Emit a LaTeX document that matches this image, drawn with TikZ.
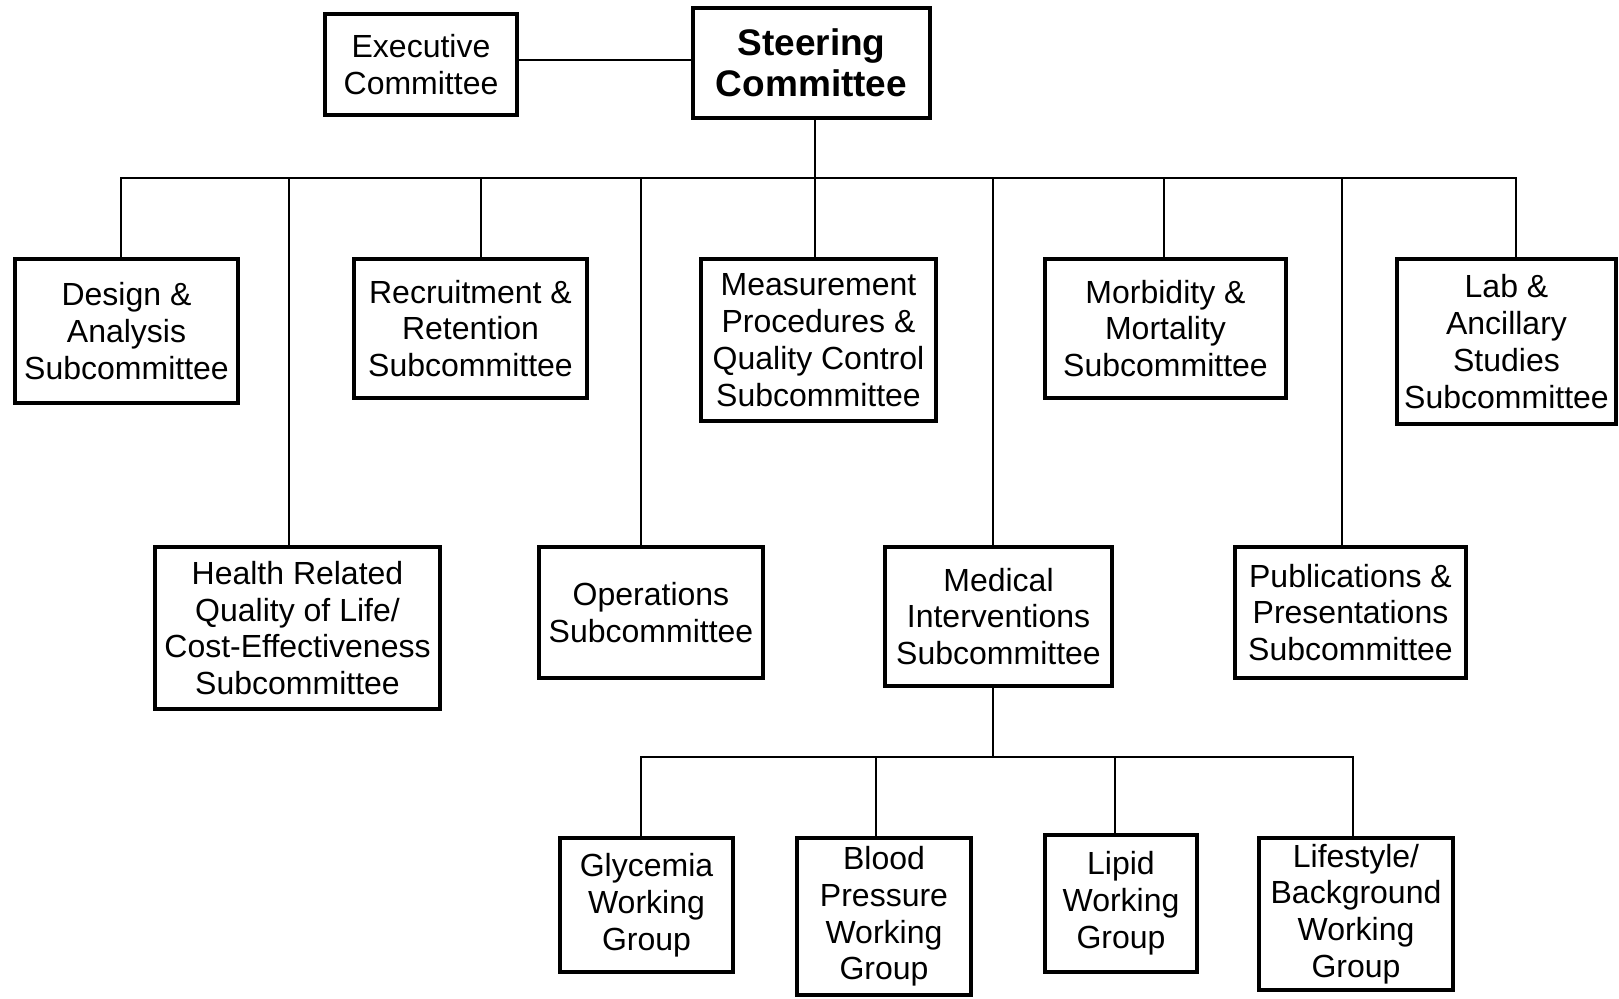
\documentclass[tikz,border=0pt]{standalone}
\usepackage{fontspec}
\setmainfont{Liberation Sans}
\usepackage{tikz}

\begin{document}
\begin{tikzpicture}[
        x=0.5pt, y=-0.5pt,
        comm/.style={draw, line width=2.3pt, inner sep=0pt, align=center,
            font=\fontsize{16}{18.4}\selectfont},
        link/.style={line width=1pt, line cap=rect}
      ]
      \useasboundingbox (0,0) rectangle (1619,998);
      \node[comm, minimum width=96pt, minimum height=50.5pt] (exec) at (421,64.5) {Executive\\Committee};
      \node[comm, minimum width=118.5pt, minimum height=55pt,
          font=\fontsize{18.5}{20.5}\selectfont\bfseries] (steer) at (811.5,63) {Steering\\Committee};
      \node[comm, minimum width=111.5pt, minimum height=72pt] (design) at (126.5,331) {Design \&\\Analysis\\Subcommittee};
      \node[comm, minimum width=116.5pt, minimum height=69.5pt] (recruit) at (470.5,328.5) {Recruitment \&\\Retention\\Subcommittee};
      \node[comm, minimum width=117.5pt, minimum height=81pt] (measure) at (818.5,340) {Measurement\\Procedures \&\\Quality Control\\Subcommittee};
      \node[comm, minimum width=120.5pt, minimum height=69.5pt] (morbid) at (1165.5,328.5) {Morbidity \&\\Mortality\\Subcommittee};
      \node[comm, minimum width=109.5pt, minimum height=82.5pt] (lab) at (1506.5,341.5) {Lab \&\\Ancillary\\Studies\\Subcommittee};
      \node[comm, minimum width=142.5pt, minimum height=81pt] (health) at (297.5,628) {Health Related\\Quality of Life/\\Cost-Effectiveness\\Subcommittee};
      \node[comm, minimum width=112pt, minimum height=65.5pt] (ops) at (651,612.5) {Operations\\Subcommittee};
      \node[comm, minimum width=113.5pt, minimum height=69.5pt] (medical) at (998.5,616.5) {Medical\\Interventions\\Subcommittee};
      \node[comm, minimum width=115.5pt, minimum height=65.5pt] (pubs) at (1350.5,612.5) {Publications \&\\Presentations\\Subcommittee};
      \node[comm, minimum width=86.5pt, minimum height=67pt] (glyc) at (646.5,905) {Glycemia\\Working\\Group};
      \node[comm, minimum width=87pt, minimum height=78.5pt] (blood) at (884,916.5) {Blood\\Pressure\\Working\\Group};
      \node[comm, minimum width=76pt, minimum height=68.5pt] (lipid) at (1121,903.5) {Lipid\\Working\\Group};
      \node[comm, minimum width=97pt, minimum height=76pt] (life) at (1356,914) {Lifestyle/\\Background\\Working\\Group};
      \coordinate (bus) at (0,178);
      \coordinate (bus2) at (0,757);
      \draw[link] ([yshift=2.25pt]exec.east) -- ([yshift=2.25pt]exec.east -| steer.west);
      \draw[link] ([xshift=1.75pt]steer.south) -- ([xshift=1.75pt]steer.south |- bus);
      \draw[link] ([xshift=-2.75pt]design.north |- bus) -- ([xshift=4.75pt]lab.north |- bus);
      \foreach \n/\dx in {design/-2.75, health/-4.25, recruit/5.25, ops/-5, measure/-1.75,
          medical/-2.75, morbid/-0.75, pubs/-4.25, lab/4.75}
        \draw[link] ([xshift=\dx pt]\n.north) -- ([xshift=\dx pt]\n.north |- bus);
      \draw[link] ([xshift=-2.75pt]medical.south) -- ([xshift=-2.75pt]medical.south |- bus2);
      \draw[link] ([xshift=-2.75pt]glyc.north |- bus2) -- ([xshift=-1.5pt]life.north |- bus2);
      \foreach \n/\dx in {glyc/-2.75, blood/-4, lipid/-3, life/-1.5}
        \draw[link] ([xshift=\dx pt]\n.north) -- ([xshift=\dx pt]\n.north |- bus2);
    \end{tikzpicture}
\end{document}
